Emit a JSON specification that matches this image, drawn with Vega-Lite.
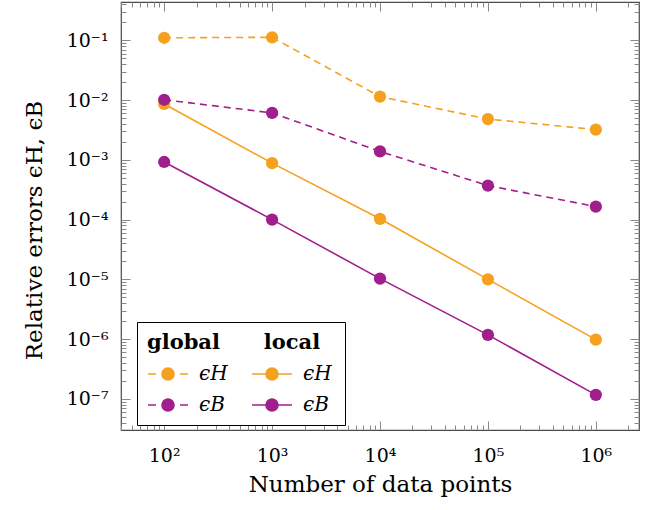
{
  "$schema": "https://vega.github.io/schema/vega-lite/v6.json",
  "width": 518,
  "height": 428,
  "autosize": {"type": "none"},
  "padding": {"left": 121, "top": 2, "right": 21, "bottom": 80},
  "config": {"view": {"stroke": "#4a4a4a", "strokeWidth": 1.2}, "font": "DejaVu Serif"},
  "data": {"values": [
    {"n": 100, "err": 0.0086, "series": "lH", "group": "local"},
    {"n": 1000, "err": 0.00088, "series": "lH", "group": "local"},
    {"n": 10000, "err": 0.000103, "series": "lH", "group": "local"},
    {"n": 100000, "err": 0.00001, "series": "lH", "group": "local"},
    {"n": 1000000, "err": 0.00000098, "series": "lH", "group": "local"},
    {"n": 100, "err": 0.00092, "series": "lB", "group": "local"},
    {"n": 1000, "err": 0.0001, "series": "lB", "group": "local"},
    {"n": 10000, "err": 0.0000103, "series": "lB", "group": "local"},
    {"n": 100000, "err": 0.00000118, "series": "lB", "group": "local"},
    {"n": 1000000, "err": 0.000000117, "series": "lB", "group": "local"},
    {"n": 100, "err": 0.11, "series": "gH", "group": "global"},
    {"n": 1000, "err": 0.112, "series": "gH", "group": "global"},
    {"n": 10000, "err": 0.0114, "series": "gH", "group": "global"},
    {"n": 100000, "err": 0.0048, "series": "gH", "group": "global"},
    {"n": 1000000, "err": 0.0032, "series": "gH", "group": "global"},
    {"n": 100, "err": 0.0101, "series": "gB", "group": "global"},
    {"n": 1000, "err": 0.0061, "series": "gB", "group": "global"},
    {"n": 10000, "err": 0.00138, "series": "gB", "group": "global"},
    {"n": 100000, "err": 0.00037, "series": "gB", "group": "global"},
    {"n": 1000000, "err": 0.000165, "series": "gB", "group": "global"}
  ]},
  "layer": [
    {
      "transform": [{"filter": "datum.group == 'global'"}],
      "mark": {"type": "line", "strokeDash": [7, 5], "strokeWidth": 1.6},
      "encoding": {
        "x": {"field": "n", "type": "quantitative",
          "scale": {"type": "log", "domain": [39.81, 2511886], "nice": false},
          "axis": {"orient": "bottom", "offset": -9, "ticks": true,
            "values": [40,50,60,70,80,90,100,200,300,400,500,600,700,800,900,1000,2000,3000,4000,5000,6000,7000,8000,9000,10000,20000,30000,40000,50000,60000,70000,80000,90000,100000,200000,300000,400000,500000,600000,700000,800000,900000,1000000,2000000],
            "labelExpr": "abs(log(datum.value)/LN10 - round(log(datum.value)/LN10)) < 0.001 ? '10' + ['⁰','¹','²','³','⁴','⁵','⁶','⁷','⁸','⁹'][round(log(datum.value)/LN10)] : ''",
            "tickSize": 9,
            "tickDash": {"condition": {"test": "abs(log(datum.value)/LN10 - round(log(datum.value)/LN10)) < 0.001", "value": [20, 1]}, "value": [0, 4, 5, 20]},
            "tickColor": "#888888", "tickWidth": 1, "domain": false, "grid": false,
            "labelFont": "DejaVu Serif", "labelFontSize": 19, "labelColor": "black", "labelPadding": 16,
            "labelOverlap": false, "labelFlush": false,
            "title": "Number of data points", "titleFont": "DejaVu Serif", "titleFontSize": 23, "titleFontWeight": "normal", "titleColor": "black", "titlePadding": 8}},
        "y": {"field": "err", "type": "quantitative",
          "scale": {"type": "log", "domain": [3.02e-8, 0.4365], "nice": false},
          "axis": {"orient": "left", "offset": -9, "ticks": true,
            "values": [4e-8,5e-8,6e-8,7e-8,8e-8,9e-8,1e-7,2e-7,3e-7,4e-7,5e-7,6e-7,7e-7,8e-7,9e-7,1e-6,2e-6,3e-6,4e-6,5e-6,6e-6,7e-6,8e-6,9e-6,1e-5,2e-5,3e-5,4e-5,5e-5,6e-5,7e-5,8e-5,9e-5,1e-4,2e-4,3e-4,4e-4,5e-4,6e-4,7e-4,8e-4,9e-4,1e-3,2e-3,3e-3,4e-3,5e-3,6e-3,7e-3,8e-3,9e-3,1e-2,2e-2,3e-2,4e-2,5e-2,6e-2,7e-2,8e-2,9e-2,1e-1,2e-1,3e-1,4e-1],
            "labelExpr": "abs(log(datum.value)/LN10 - round(log(datum.value)/LN10)) < 0.001 ? '10⁻' + ['⁰','¹','²','³','⁴','⁵','⁶','⁷','⁸','⁹'][-round(log(datum.value)/LN10)] : ''",
            "tickSize": 9,
            "tickDash": {"condition": {"test": "abs(log(datum.value)/LN10 - round(log(datum.value)/LN10)) < 0.001", "value": [20, 1]}, "value": [0, 4, 5, 20]},
            "tickColor": "#888888", "tickWidth": 1, "domain": false, "grid": false,
            "labelFont": "DejaVu Serif", "labelFontSize": 19, "labelColor": "black", "labelPadding": 13,
            "labelOverlap": false, "labelFlush": false,
            "title": "Relative errors ϵH, ϵB", "titleFont": "DejaVu Serif", "titleFontSize": 23, "titleFontWeight": "normal", "titleColor": "black", "titlePadding": 20, "titleY": 228}},
        "color": {"field": "series", "type": "nominal",
          "scale": {"domain": ["gH", "gB"], "range": ["#F6A11E", "#A01F8D"]},
          "legend": {
            "orient": "none", "legendX": 16, "legendY": 320,
            "title": "global\u00a0\u00a0\u00a0\u00a0\u00a0\u00a0local\u00a0\u00a0\u200b",
            "titleFont": "DejaVu Serif", "titleFontWeight": "bold", "titleFontSize": 21, "titleColor": "black",
            "titleLimit": 400,
            "titlePadding": 0, "rowPadding": -8,
            "strokeColor": "black", "fillColor": "white", "padding": 10,
            "labelExpr": "(datum.value == 'gH' || datum.value == 'lH') ? 'ϵH' : 'ϵB'",
            "labelFont": "DejaVu Serif", "labelFontStyle": "italic", "labelFontSize": 20, "labelColor": "black",
            "symbolType": "M-1,0H-0.6M0.6,0H1M-0.3,0A0.3,0.3,0,1,1,0.3,0A0.3,0.3,0,1,1,-0.3,0Z",
            "symbolSize": 1600, "symbolStrokeWidth": 1.6, "labelOffset": 10
          }}
      }
    },
    {
      "transform": [{"filter": "datum.group == 'local'"}],
      "mark": {"type": "line", "strokeWidth": 1.6},
      "encoding": {
        "x": {"field": "n", "type": "quantitative",
          "scale": {"type": "log", "domain": [39.81, 2511886], "nice": false},
          "axis": {"orient": "top", "offset": -9, "ticks": true,
            "values": [40,50,60,70,80,90,100,200,300,400,500,600,700,800,900,1000,2000,3000,4000,5000,6000,7000,8000,9000,10000,20000,30000,40000,50000,60000,70000,80000,90000,100000,200000,300000,400000,500000,600000,700000,800000,900000,1000000,2000000],
            "labels": false,
            "tickSize": 9,
            "tickDash": {"condition": {"test": "abs(log(datum.value)/LN10 - round(log(datum.value)/LN10)) < 0.001", "value": [20, 1]}, "value": [0, 4, 5, 20]},
            "tickColor": "#888888", "tickWidth": 1, "domain": false, "grid": false, "title": null}},
        "y": {"field": "err", "type": "quantitative",
          "scale": {"type": "log", "domain": [3.02e-8, 0.4365], "nice": false},
          "axis": {"orient": "right", "offset": -9, "ticks": true,
            "values": [4e-8,5e-8,6e-8,7e-8,8e-8,9e-8,1e-7,2e-7,3e-7,4e-7,5e-7,6e-7,7e-7,8e-7,9e-7,1e-6,2e-6,3e-6,4e-6,5e-6,6e-6,7e-6,8e-6,9e-6,1e-5,2e-5,3e-5,4e-5,5e-5,6e-5,7e-5,8e-5,9e-5,1e-4,2e-4,3e-4,4e-4,5e-4,6e-4,7e-4,8e-4,9e-4,1e-3,2e-3,3e-3,4e-3,5e-3,6e-3,7e-3,8e-3,9e-3,1e-2,2e-2,3e-2,4e-2,5e-2,6e-2,7e-2,8e-2,9e-2,1e-1,2e-1,3e-1,4e-1],
            "labels": false,
            "tickSize": 9,
            "tickDash": {"condition": {"test": "abs(log(datum.value)/LN10 - round(log(datum.value)/LN10)) < 0.001", "value": [20, 1]}, "value": [0, 4, 5, 20]},
            "tickColor": "#888888", "tickWidth": 1, "domain": false, "grid": false, "title": null}},
        "stroke": {"field": "series", "type": "nominal",
          "scale": {"domain": ["lH", "lB"], "range": ["#F6A11E", "#A01F8D"]},
          "legend": {
            "orient": "none", "legendX": 130, "legendY": 351, "title": null, "padding": 0, "rowPadding": -8,
            "labelExpr": "(datum.value == 'gH' || datum.value == 'lH') ? 'ϵH' : 'ϵB'",
            "labelFont": "DejaVu Serif", "labelFontStyle": "italic", "labelFontSize": 20, "labelColor": "black",
            "symbolType": "M-1,0H1M-0.3,0A0.3,0.3,0,1,1,0.3,0A0.3,0.3,0,1,1,-0.3,0Z",
            "symbolSize": 1600, "symbolStrokeWidth": 1.6, "labelOffset": 10
          }}
      }
    },
    {
      "transform": [{"filter": "datum.group == 'local'"}],
      "mark": {"type": "point", "filled": true, "size": 150, "opacity": 1},
      "encoding": {
        "x": {"field": "n", "type": "quantitative", "scale": {"type": "log", "domain": [39.81, 2511886], "nice": false}, "axis": null},
        "y": {"field": "err", "type": "quantitative", "scale": {"type": "log", "domain": [3.02e-8, 0.4365], "nice": false}, "axis": null},
        "fill": {"field": "series", "type": "nominal",
          "scale": {"domain": ["lH", "lB"], "range": ["#F6A11E", "#A01F8D"]},
          "legend": {
            "orient": "none", "legendX": 130, "legendY": 351, "title": null, "padding": 0, "rowPadding": -8,
            "labelExpr": "(datum.value == 'gH' || datum.value == 'lH') ? 'ϵH' : 'ϵB'",
            "labelFont": "DejaVu Serif", "labelFontStyle": "italic", "labelFontSize": 20, "labelColor": "black",
            "symbolType": "M-1,0H1M-0.3,0A0.3,0.3,0,1,1,0.3,0A0.3,0.3,0,1,1,-0.3,0Z",
            "symbolSize": 1600, "symbolStrokeWidth": 1.6, "labelOffset": 10
          }}
      }
    },
    {
      "transform": [{"filter": "datum.group == 'global'"}],
      "mark": {"type": "point", "filled": true, "size": 150, "opacity": 1},
      "encoding": {
        "x": {"field": "n", "type": "quantitative", "scale": {"type": "log", "domain": [39.81, 2511886], "nice": false}, "axis": null},
        "y": {"field": "err", "type": "quantitative", "scale": {"type": "log", "domain": [3.02e-8, 0.4365], "nice": false}, "axis": null},
        "color": {"field": "series", "type": "nominal",
          "scale": {"domain": ["gH", "gB"], "range": ["#F6A11E", "#A01F8D"]},
          "legend": {
            "orient": "none", "legendX": 16, "legendY": 320,
            "title": "global\u00a0\u00a0\u00a0\u00a0\u00a0\u00a0local\u00a0\u00a0\u200b",
            "titleFont": "DejaVu Serif", "titleFontWeight": "bold", "titleFontSize": 21, "titleColor": "black",
            "titleLimit": 400,
            "titlePadding": 0, "rowPadding": -8,
            "strokeColor": "black", "fillColor": "white", "padding": 10,
            "labelExpr": "(datum.value == 'gH' || datum.value == 'lH') ? 'ϵH' : 'ϵB'",
            "labelFont": "DejaVu Serif", "labelFontStyle": "italic", "labelFontSize": 20, "labelColor": "black",
            "symbolType": "M-1,0H-0.6M0.6,0H1M-0.3,0A0.3,0.3,0,1,1,0.3,0A0.3,0.3,0,1,1,-0.3,0Z",
            "symbolSize": 1600, "symbolStrokeWidth": 1.6, "labelOffset": 10
          }}
      }
    }
  ],
  "resolve": {"axis": {"x": "independent", "y": "independent"}}
}
